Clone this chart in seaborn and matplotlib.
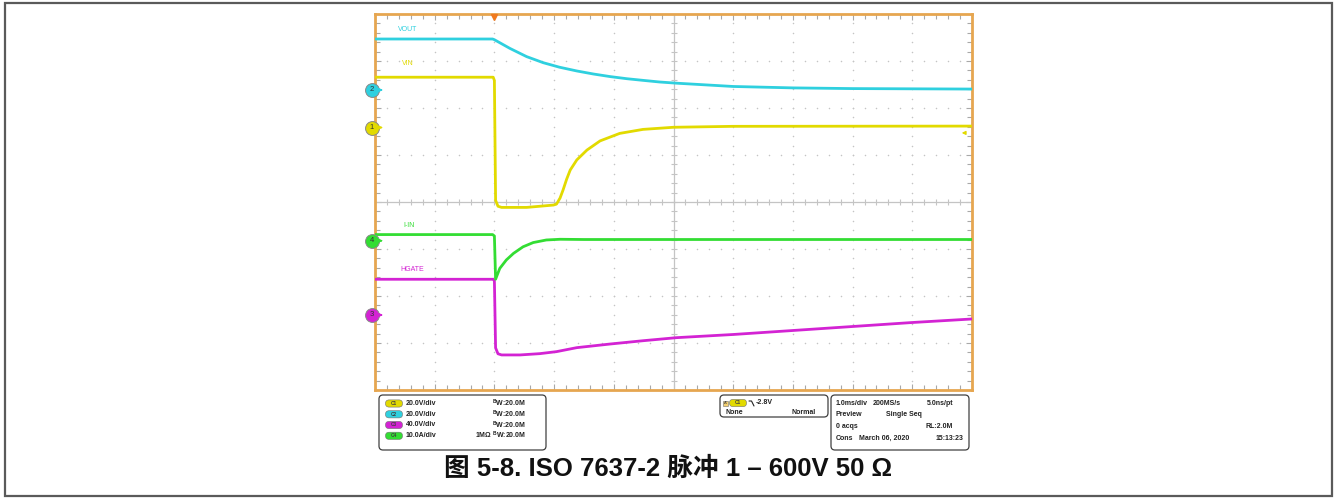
import numpy as np
import pandas as pd
import matplotlib
matplotlib.use("Agg")
import matplotlib.pyplot as plt
from matplotlib.patches import FancyBboxPatch, Rectangle
import seaborn as sns

# ---- acquisition data (time in ms, trigger at t = 0) ----
vin_t = [-2.0, -0.02, 0.0, 0.02, 0.06, 0.12, 0.54, 0.99, 1.04, 1.10, 1.15, 1.21, 1.27, 1.38, 1.55, 1.77, 2.10, 2.49, 3.00, 4.0, 8.0]
vin_v = [21.4, 21.4, 20.0, -31.0, -33.5, -34.0, -34.0, -33.0, -32.6, -30.0, -26.6, -22.0, -18.1, -13.8, -9.6, -5.7, -2.5, -0.8, 0.1, 0.5, 0.6]

vout_t = [-2.0, -0.03, 0.0, 0.26, 0.54, 0.82, 1.09, 1.38, 1.66, 1.94, 2.22, 2.49, 2.77, 3.05, 4.0, 5.0, 6.0, 8.0]
vout_v = [21.7, 21.7, 21.4, 17.7, 14.2, 11.6, 9.7, 8.1, 6.8, 5.7, 4.8, 4.1, 3.4, 2.9, 1.5, 0.9, 0.6, 0.4]

hgate_t = [-2.0, -0.02, 0.0, 0.02, 0.06, 0.12, 0.43, 0.76, 1.04, 1.38, 1.94, 2.49, 3.05, 4.0, 5.0, 6.0, 7.0, 8.0]
hgate_v = [30.4, 30.4, 29.0, -28.0, -33.0, -34.0, -34.0, -32.9, -31.2, -27.8, -24.7, -21.9, -19.3, -16.6, -13.2, -9.8, -6.4, -3.4]

iin_t = [-2.0, -0.03, 0.0, 0.02, 0.09, 0.20, 0.32, 0.48, 0.65, 0.87, 1.10, 1.5, 8.0]
iin_v = [1.3, 1.3, 1.0, -8.2, -5.9, -4.1, -2.7, -1.3, -0.4, 0.15, 0.3, 0.25, 0.25]

# ---- channel setup: (scale per div, ground position in div, colour, label) ----
channels = {
    "VIN":   dict(num="1", scale=20.0, ground=1.585, color="#e2da00", text="20.0V/div"),
    "VOUT":  dict(num="2", scale=20.0, ground=2.383, color="#2fd0df", text="20.0V/div"),
    "HGATE": dict(num="3", scale=40.0, ground=-2.404, color="#d323d3", text="40.0V/div"),
    "I-IN":  dict(num="4", scale=10.0, ground=-0.823, color="#33dd33", text="10.0A/div"),
}
series = {"VIN": (vin_t, vin_v), "VOUT": (vout_t, vout_v),
          "HGATE": (hgate_t, hgate_v), "I-IN": (iin_t, iin_v)}

frames = []
for name, (t, v) in series.items():
    c = channels[name]
    frames.append(pd.DataFrame({"t": t, "div": np.array(v) / c["scale"] + c["ground"], "ch": name}))
df = pd.concat(frames, ignore_index=True)

sns.set_style("white")
plt.rcParams["font.family"] = ["Liberation Sans", "Noto Sans CJK SC", "DejaVu Sans"]

W, H = 1336, 499
fig = plt.figure(figsize=(W / 100, H / 100), dpi=100)

# overlay in pixel coordinates for panel, caption and border
ov = fig.add_axes([0, 0, 1, 1], zorder=0)
ov.set_xlim(0, W)
ov.set_ylim(H, 0)
ov.axis("off")

L, R, T, B = 375, 972, 14, 390
ax = fig.add_axes([L / W, 1 - B / H, (R - L) / W, (B - T) / H], zorder=1)
ax.set_xlim(-2, 8)
ax.set_ylim(-4, 4)

# graticule
grid_c = "#c4c4c4"
xs_minor = np.arange(-2, 8.001, 0.2)
ys_minor = np.arange(-4, 4.001, 0.2)
for y in [-3, -2, -1, 1, 2, 3]:
    ax.plot(xs_minor, np.full_like(xs_minor, y), ls="", marker="o", ms=1.1, color=grid_c, mew=0)
for x in [-1, 0, 1, 2, 4, 5, 6, 7]:
    ax.plot(np.full_like(ys_minor, x), ys_minor, ls="", marker="o", ms=1.1, color=grid_c, mew=0)
ax.axhline(0, color=grid_c, lw=0.9)
ax.axvline(3, color=grid_c, lw=0.9)
ax.plot(xs_minor, np.zeros_like(xs_minor), ls="", marker="|", ms=4, mew=0.8, color=grid_c)
ax.plot(np.full_like(ys_minor, 3), ys_minor, ls="", marker="_", ms=4, mew=0.8, color=grid_c)

ax.set_xticks(np.arange(-2, 8.001, 1))
ax.set_xticks(xs_minor, minor=True)
ax.set_yticks(np.arange(-4, 4.001, 1))
ax.set_yticks(ys_minor, minor=True)
ax.tick_params(which="both", direction="in", top=True, right=True, bottom=True, left=True,
               color="#a8a8a8", width=0.8, labelbottom=False, labelleft=False)
ax.tick_params(which="major", length=4.5)
ax.tick_params(which="minor", length=3.5)
for s in ax.spines.values():
    s.set_color("#e6a650")
    s.set_linewidth(2)

palette = {k: v["color"] for k, v in channels.items()}
sns.lineplot(data=df, x="t", y="div", hue="ch", palette=palette, estimator=None,
             sort=False, lw=2.0, legend=False, ax=ax, zorder=3)
ax.set_xlabel("")
ax.set_ylabel("")

# trace names
for name, (x, y) in {"VOUT": (-1.62, 3.68), "VIN": (-1.55, 2.94),
                     "I-IN": (-1.53, -0.49), "HGATE": (-1.58, -1.43)}.items():
    ax.text(x, y, name, color=channels[name]["color"], fontsize=5, va="center", ha="left")

# channel ground markers on the left edge
for name, c in channels.items():
    ax.plot([-2.05], [c["ground"]], marker="o", ms=10, color=c["color"], mec="#8a8a8a",
            mew=0.7, clip_on=False, zorder=5)
    ax.text(-2.05, c["ground"], c["num"], fontsize=5.5, ha="center", va="center",
            color="#333333", clip_on=False, zorder=6)
    ax.annotate("", xy=(-1.82, c["ground"]), xytext=(-1.96, c["ground"]),
                arrowprops=dict(arrowstyle="-|>", color=c["color"], lw=1.0,
                                mutation_scale=5), annotation_clip=False, zorder=5)

# trigger position and level markers
ax.plot([0], [3.93], marker="v", ms=5, color="#f07a20", clip_on=False, zorder=6)
ax.annotate("", xy=(7.78, 1.47), xytext=(7.93, 1.47),
            arrowprops=dict(arrowstyle="-|>", color=channels["VIN"]["color"], lw=1.0,
                            mutation_scale=5), annotation_clip=False, zorder=5)

# ---- status panel ----
def box(x0, y0, x1, y1):
    ov.add_patch(FancyBboxPatch((x0, y0), x1 - x0, y1 - y0,
                                boxstyle="round,pad=0,rounding_size=4",
                                fc="white", ec="#404040", lw=0.9))

def pill(x, y, color, label):
    ov.add_patch(FancyBboxPatch((x - 8.5, y - 3.6), 17, 7.2, boxstyle="round,pad=0,rounding_size=3.6",
                                fc=color, ec="#707070", lw=0.4))
    ov.text(x, y, label, fontsize=3.4, ha="center", va="center", color="#404040",
            fontweight="bold")

fs = 5.0
tk = dict(fontsize=fs, fontweight="bold", color="#222222", va="center")
box(379, 395, 546, 450)
rows = [(403.5, "VIN", "C1", ""), (414.3, "VOUT", "C2", ""),
        (425.0, "HGATE", "C3", ""), (435.8, "I-IN", "C4", "1MΩ ")]
for y, name, lab, imp in rows:
    pill(394, y, channels[name]["color"], lab)
    ov.text(406, y, channels[name]["text"], ha="left", **tk)
    ov.text(526, y, imp + r"$^{\mathregular{B}}$W:20.0M", ha="right", **tk)

box(720, 395, 828, 417)
ov.add_patch(Rectangle((723, 400.5), 5, 5, fc="#f4d070", ec="#707070", lw=0.4))
ov.text(725.5, 403, "A'", fontsize=3, ha="center", va="center", color="#333333")
pill(738, 403, channels["VIN"]["color"], "C1")
ov.plot([749, 751.5, 754], [401, 401, 406], color="#222222", lw=0.8)
ov.text(756, 403, "-2.8V", ha="left", **tk)
ov.text(725, 412.5, "None", ha="left", **tk)
ov.text(816, 412.5, "Normal", ha="right", **tk)

box(831, 395, 969, 450)
r3 = [403.5, 415.0, 426.5, 438.0]
ov.text(836, r3[0], "1.0ms/div", ha="left", **tk)
ov.text(873, r3[0], "200MS/s", ha="left", **tk)
ov.text(953, r3[0], "5.0ns/pt", ha="right", **tk)
ov.text(836, r3[1], "Preview", ha="left", **tk)
ov.text(886, r3[1], "Single Seq", ha="left", **tk)
ov.text(836, r3[2], "0 acqs", ha="left", **tk)
ov.text(953, r3[2], "RL:2.0M", ha="right", **tk)
ov.text(836, r3[3], "Cons", ha="left", **tk)
ov.text(859, r3[3], "March 06, 2020", ha="left", **tk)
ov.text(963, r3[3], "15:13:23", ha="right", **tk)

# caption
ov.text(668, 469, "图 5-8. ISO 7637-2 脉冲 1 – 600V 50 Ω", fontsize=18.5, fontweight="bold",
        ha="center", va="center", color="#111111",
        family=["Liberation Sans", "Noto Sans CJK SC"])

# outer frame
ov.add_patch(Rectangle((5, 3), 1327, 493, fc="none", ec="#5a5a5a", lw=1.6))

fig.savefig("out.png", dpi=100)
